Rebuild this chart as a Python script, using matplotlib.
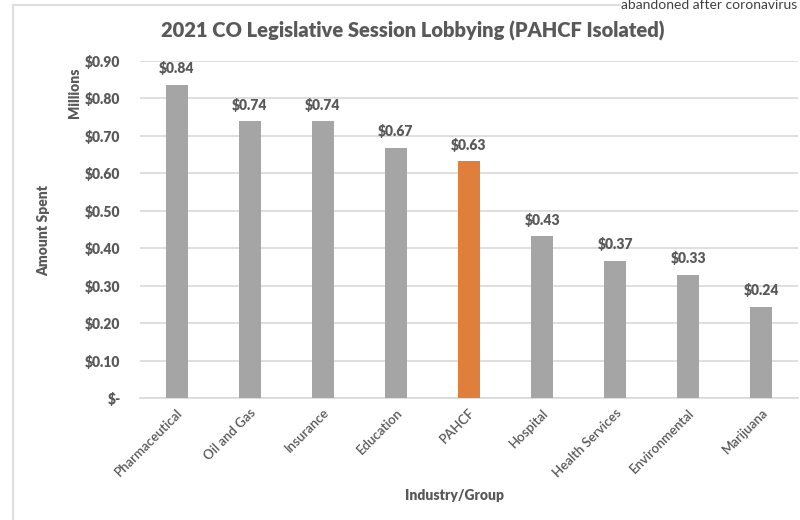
import matplotlib.pyplot as plt
from matplotlib.lines import Line2D

# Data (millions of USD)
groups = ['Pharmaceutical', 'Oil and Gas', 'Insurance', 'Education', 'PAHCF',
          'Hospital', 'Health Services', 'Environmental', 'Marijuana']
spent = [0.836, 0.739, 0.739, 0.668, 0.632, 0.432, 0.366, 0.329, 0.243]
highlight = 'PAHCF'
y_ticks = [0.0, 0.1, 0.2, 0.3, 0.4, 0.5, 0.6, 0.7, 0.8, 0.9]

gray = '#A5A5A5'
orange = '#E07E3C'
txt = '#595959'

plt.rcParams['font.family'] = ['Lato', 'DejaVu Sans']

fig = plt.figure(figsize=(8, 5.2), dpi=100)
ax = fig.add_axes([0.175, 0.2346, 0.8225, 0.6481])

colors = [orange if g == highlight else gray for g in groups]
x = range(len(groups))
bars = ax.bar(x, spent, width=0.3, color=colors, zorder=3)

for b, v in zip(bars, spent):
    ax.annotate(f'${v:.2f}', (b.get_x() + b.get_width() / 2, v),
                xytext=(0, 7), textcoords='offset points', ha='center', va='bottom',
                fontsize=10, fontweight='heavy', color=txt)

ax.set_xlim(-0.5, len(groups) - 0.5)
ax.set_ylim(0, 0.9)
ax.set_yticks(y_ticks)
ax.set_yticklabels(['$-' if t == 0 else f'${t:.2f}' for t in y_ticks],
                   fontsize=10, fontweight='heavy', color=txt)
ax.set_xticks(list(x))
ax.set_xticklabels(groups, rotation=45, ha='right', rotation_mode='anchor',
                   fontsize=9.5, fontweight='semibold', color=txt)
ax.tick_params(axis='both', length=0, pad=14)
ax.tick_params(axis='x', pad=6)
ax.grid(axis='y', color='#D9D9D9', linewidth=1.2, zorder=0)
for s in ['top', 'right', 'left']:
    ax.spines[s].set_visible(False)
ax.spines['bottom'].set_color('#D9D9D9')
ax.spines['bottom'].set_linewidth(1.2)

fig.text(413 / 800, 1 - 31 / 520, '2021 CO Legislative Session Lobbying (PAHCF Isolated)',
         ha='center', va='center', fontsize=14.5, fontweight='heavy', color=txt)
fig.text(455 / 800, 1 - 496 / 520, 'Industry/Group', ha='center', va='center',
         fontsize=10, fontweight='heavy', color=txt)
fig.text(44 / 800, 1 - 230 / 520, 'Amount Spent', ha='center', va='center',
         rotation=90, fontsize=10, fontweight='heavy', color=txt)
fig.text(75 / 800, 1 - 93 / 520, 'Millions', ha='center', va='center',
         rotation=90, fontsize=10, fontweight='heavy', color=txt)

# text and frame from the original screenshot
fig.text(797 / 800, 1 - 9 / 520, 'abandoned after coronavirus', ha='right',
         va='baseline', fontsize=10, color='#404040')
fig.add_artist(Line2D([13 / 800, 13 / 800], [0, 1 - 5 / 520], color='#D9D9D9', lw=1.2))
fig.add_artist(Line2D([13 / 800, 620 / 800], [1 - 5 / 520, 1 - 5 / 520], color='#D9D9D9', lw=1.2))

fig.savefig('out.png', dpi=100, facecolor='white')
